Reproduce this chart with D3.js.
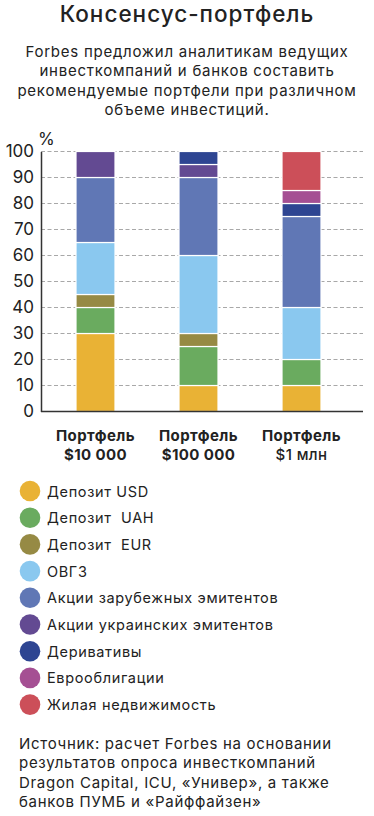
<!DOCTYPE html>
<html>
<head>
<meta charset="utf-8">
<script src="https://cdn.jsdelivr.net/npm/d3@7"></script>
<style>
  body { margin: 0; background: #fff; }
  svg { display: block; font-family: "Inter", "Noto Sans", sans-serif; }
</style>
</head>
<body>
<svg width="374" height="816"></svg>
<script>
const portfolios = ["p10k", "p100k", "p1m"];
const portfolioLine1 = ["Портфель", "Портфель", "Портфель"];
const portfolioLine2 = ["$10 000", "$100 000", "$1 млн"];

const assets = [
  "Депозит USD",
  "Депозит  UAH",
  "Депозит  EUR",
  "ОВГЗ",
  "Акции зарубежных эмитентов",
  "Акции украинских эмитентов",
  "Деривативы",
  "Еврооблигации",
  "Жилая недвижимость"
];
const assetColors = [
  "#e9b235", "#6aab5f", "#968a44", "#8ac8ef", "#6077b5",
  "#634a92", "#2e4592", "#a54f93", "#cc4f59"
];

// share of each asset, in %, per portfolio
const shares10k = [30, 10, 5, 20, 25, 10, 0, 0, 0];
const shares100k = [10, 15, 5, 30, 30, 5, 5, 0, 0];
const shares1m = [10, 10, 0, 20, 35, 0, 5, 5, 15];

const yTicks = [0, 10, 20, 30, 40, 50, 60, 70, 80, 90, 100];

const titleText = "Консенсус-портфель";
const subtitleLines = [
  "Forbes предложил аналитикам ведущих",
  "инвесткомпаний и банков составить",
  "рекомендуемые портфели при различном",
  "объеме инвестиций."
];
const sourceLines = [
  "Источник: расчет Forbes на основании",
  "результатов опроса инвесткомпаний",
  "Dragon Capital, ICU, «Универ», а также",
  "банков ПУМБ и «Райффайзен»"
];

main();

function main() {
  const svg = d3.select("svg");
  const ink = "#222";

  svg.append("text")
    .text(titleText)
    .attr("x", 187)
    .attr("y", 22)
    .attr("text-anchor", "middle")
    .attr("font-size", 22.5)
    .attr("font-weight", 500)
    .attr("letter-spacing", 1)
    .attr("fill", ink);

  svg.append("g")
    .selectAll("text")
    .data(subtitleLines)
    .join("text")
    .text((d) => d)
    .attr("x", 187)
    .attr("y", (d, i) => 57 + i * 19.4)
    .attr("text-anchor", "middle")
    .attr("font-size", 15)
    .attr("letter-spacing", 0.75)
    .attr("fill", ink);

  // chart
  const axisLeft = 41;
  const gridRight = 363;

  const yScale = d3.scaleLinear().domain([0, 100]).range([411.5, 151.5]);
  const xScale = d3.scalePoint().domain(portfolios).range([95.5, 301.5]);
  const barWidth = 39;

  const table = portfolios.map((p, i) => {
    const row = { portfolio: p };
    const vals = [shares10k, shares100k, shares1m][i];
    assets.forEach((a, j) => (row[a] = vals[j]));
    return row;
  });
  const series = d3.stack().keys(assets)(table);
  const colorScale = d3.scaleOrdinal(assets, assetColors);

  // grid
  svg.append("g")
    .selectAll("line")
    .data(yTicks.filter((t) => t > 0))
    .join("line")
    .attr("x1", axisLeft)
    .attr("x2", gridRight)
    .attr("y1", (d) => yScale(d))
    .attr("y2", (d) => yScale(d))
    .attr("stroke", "#a8a8a8")
    .attr("stroke-width", 1.2)
    .attr("stroke-dasharray", "4,2.5");

  // bars
  svg.append("g")
    .selectAll("g")
    .data(series)
    .join("g")
    .attr("fill", (d) => colorScale(d.key))
    .selectAll("rect")
    .data((d) => d.filter((s) => s[1] > s[0]))
    .join("rect")
    .attr("x", (d) => xScale(d.data.portfolio) - barWidth / 2)
    .attr("width", barWidth)
    .attr("y", (d) => yScale(d[1]))
    .attr("height", (d) => yScale(d[0]) - yScale(d[1]))
    .attr("stroke", "#fff")
    .attr("stroke-width", 1.2);

  // axes
  const yAxis = d3.axisLeft(yScale).tickValues(yTicks).tickSize(0).tickPadding(7);
  const yG = svg.append("g")
    .attr("transform", `translate(${axisLeft}, 0)`)
    .call(yAxis);
  yG.select(".domain").attr("stroke", "#333").attr("stroke-width", 1.5);
  yG.selectAll("text")
    .attr("font-size", 17)
    .attr("font-family", "Inter, sans-serif")
    .attr("fill", ink);

  svg.append("line")
    .attr("x1", axisLeft)
    .attr("x2", gridRight)
    .attr("y1", yScale(0))
    .attr("y2", yScale(0))
    .attr("stroke", "#333")
    .attr("stroke-width", 1.5);

  svg.append("text")
    .text("%")
    .attr("x", 38)
    .attr("y", 145)
    .attr("font-size", 17)
    .attr("fill", ink);

  // category labels
  const catG = svg.append("g")
    .selectAll("g")
    .data(portfolios)
    .join("g")
    .attr("transform", (d) => `translate(${xScale(d)}, 0)`);
  catG.append("text")
    .text((d, i) => portfolioLine1[i])
    .attr("y", 441)
    .attr("text-anchor", "middle")
    .attr("font-size", 15)
    .attr("font-weight", 700)
    .attr("letter-spacing", 0.4)
    .attr("fill", ink);
  catG.append("text")
    .text((d, i) => portfolioLine2[i])
    .attr("y", 460)
    .attr("text-anchor", "middle")
    .attr("font-size", 15)
    .attr("font-weight", (d, i) => (i === 2 ? 500 : 700))
    .attr("letter-spacing", 0.4)
    .attr("fill", ink);

  // legend
  const legend = svg.append("g")
    .selectAll("g")
    .data(assets)
    .join("g")
    .attr("transform", (d, i) => `translate(30, ${491 + i * 26.7})`);
  legend.append("circle")
    .attr("r", 10.3)
    .attr("fill", (d) => colorScale(d));
  legend.append("text")
    .text((d) => d)
    .attr("x", 17)
    .attr("y", 5.5)
    .attr("font-size", 14.5)
    .attr("letter-spacing", 0.65)
    .attr("fill", ink)
    .style("white-space", "pre");

  // source
  svg.append("g")
    .selectAll("text")
    .data(sourceLines)
    .join("text")
    .text((d) => d)
    .attr("x", 19)
    .attr("y", (d, i) => 749 + i * 19.4)
    .attr("font-size", 15)
    .attr("letter-spacing", 0.7)
    .attr("fill", ink);
}
</script>
</body>
</html>
